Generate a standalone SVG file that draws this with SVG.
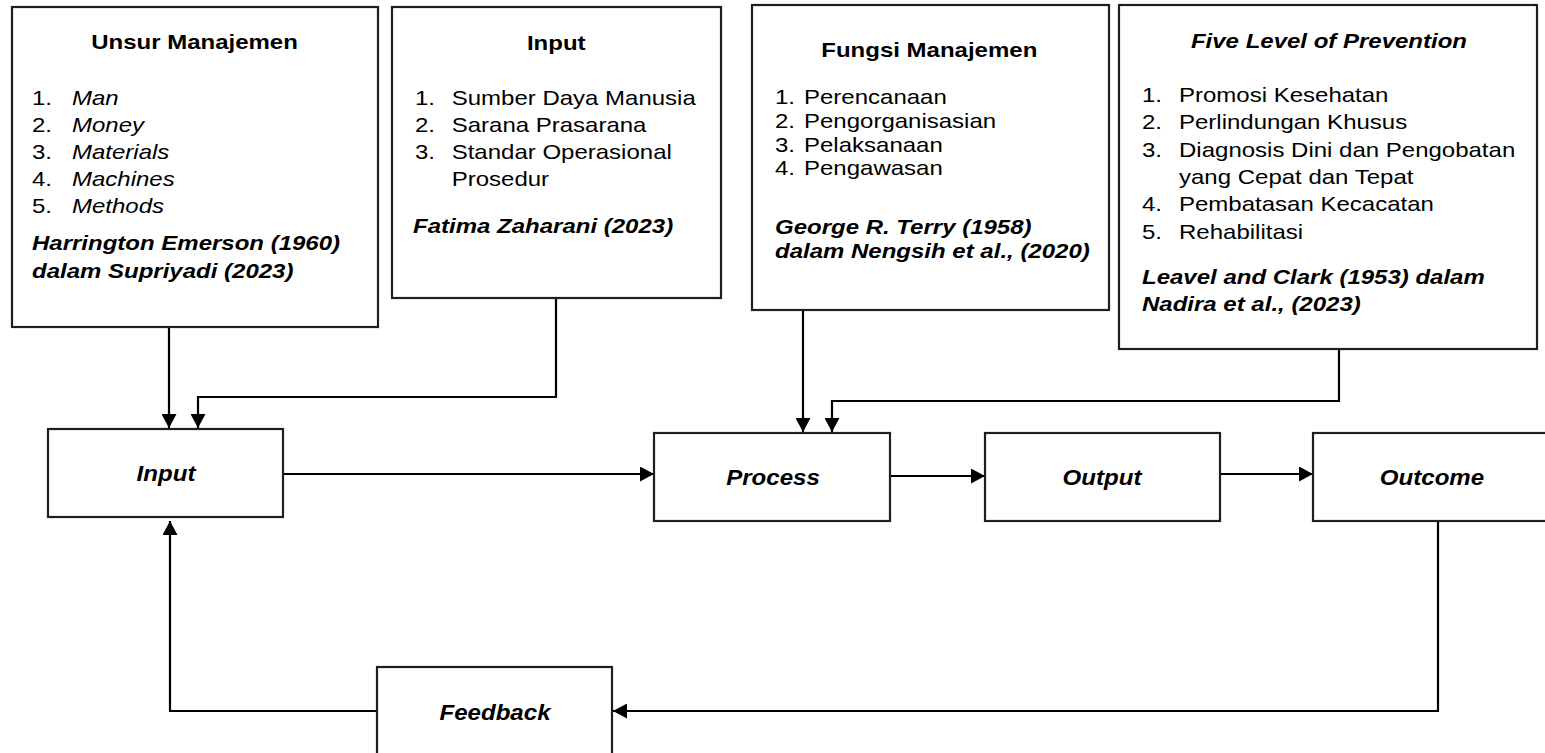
<svg xmlns="http://www.w3.org/2000/svg" width="1545" height="753" viewBox="0 0 1545 753">
<defs>
<style>
.box{fill:#fff;stroke:#1a1f26;stroke-width:2.2}
.t{font-family:"Liberation Sans",Arial,sans-serif;font-size:21px;fill:#000}
.b{font-weight:bold}
.i{font-style:italic}
.lbl{font-family:"Liberation Sans",Arial,sans-serif;font-size:22.5px;font-weight:bold;font-style:italic;fill:#000}
.c{fill:none;stroke:#000;stroke-width:2.2}
</style>
<marker id="ah" viewBox="0 0 14 15" refX="14" refY="7.5" markerWidth="14" markerHeight="15" markerUnits="userSpaceOnUse" orient="auto">
<path d="M0,0 L14,7.5 L0,15 z" fill="#000"/>
</marker>
</defs>
<rect width="1545" height="753" fill="#fff"/>

<g id="connectors">
<path class="c" d="M169,327 V428" marker-end="url(#ah)"/>
<path class="c" d="M556,298 V397 H198 V428" marker-end="url(#ah)"/>
<path class="c" d="M803,310 V432" marker-end="url(#ah)"/>
<path class="c" d="M1339,349 V401 H832 V432" marker-end="url(#ah)"/>
<path class="c" d="M283,474 H654" marker-end="url(#ah)"/>
<path class="c" d="M890,476 H985" marker-end="url(#ah)"/>
<path class="c" d="M1220,474 H1313" marker-end="url(#ah)"/>
<path class="c" d="M1438,521 V711 H613" marker-end="url(#ah)"/>
<path class="c" d="M377,711 H170 V521" marker-end="url(#ah)"/>
</g>

<g id="unsur-manajemen">
<rect class="box" x="12" y="7" width="366" height="320"/>
<g transform="translate(32,0) scale(1.143,1)">
<text class="t b" x="142.2" y="49" text-anchor="middle">Unsur Manajemen</text>
<text class="t" x="0" y="105">1.</text><text class="t i" x="35" y="105">Man</text>
<text class="t" x="0" y="132">2.</text><text class="t i" x="35" y="132">Money</text>
<text class="t" x="0" y="159">3.</text><text class="t i" x="35" y="159">Materials</text>
<text class="t" x="0" y="186">4.</text><text class="t i" x="35" y="186">Machines</text>
<text class="t" x="0" y="213">5.</text><text class="t i" x="35" y="213">Methods</text>
<text class="t b i" x="0" y="250">Harrington Emerson (1960)</text>
<text class="t b i" x="0" y="278">dalam Supriyadi (2023)</text>
</g>
</g>

<g id="input-detail">
<rect class="box" x="392" y="7" width="329" height="291"/>
<g transform="translate(415,0) scale(1.143,1)">
<text class="t b" x="123.6" y="50" text-anchor="middle">Input</text>
<text class="t" x="0" y="105">1.</text><text class="t" x="32.1" y="105">Sumber Daya Manusia</text>
<text class="t" x="0" y="132">2.</text><text class="t" x="32.1" y="132">Sarana Prasarana</text>
<text class="t" x="0" y="159">3.</text><text class="t" x="32.1" y="159">Standar Operasional</text>
<text class="t" x="32.1" y="186">Prosedur</text>
<text class="t b i" x="-1.7" y="233">Fatima Zaharani (2023)</text>
</g>
</g>

<g id="fungsi-manajemen">
<rect class="box" x="752" y="5" width="357" height="305"/>
<g transform="translate(775,0) scale(1.143,1)">
<text class="t b" x="135" y="57" text-anchor="middle">Fungsi Manajemen</text>
<text class="t" x="0" y="104">1.</text><text class="t" x="25.4" y="104">Perencanaan</text>
<text class="t" x="0" y="128">2.</text><text class="t" x="25.4" y="128">Pengorganisasian</text>
<text class="t" x="0" y="152">3.</text><text class="t" x="25.4" y="152">Pelaksanaan</text>
<text class="t" x="0" y="175.5">4.</text><text class="t" x="25.4" y="175.5">Pengawasan</text>
<text class="t b i" x="0" y="234">George R. Terry (1958)</text>
<text class="t b i" x="0" y="258">dalam Nengsih et al., (2020)</text>
</g>
</g>

<g id="five-level">
<rect class="box" x="1119" y="5" width="418" height="344"/>
<g transform="translate(1142,0) scale(1.143,1)">
<text class="t b i" x="163.6" y="48" text-anchor="middle">Five Level of Prevention</text>
<text class="t" x="0" y="102">1.</text><text class="t" x="32.4" y="102">Promosi Kesehatan</text>
<text class="t" x="0" y="129.5">2.</text><text class="t" x="32.4" y="129.5">Perlindungan Khusus</text>
<text class="t" x="0" y="157">3.</text><text class="t" x="32.4" y="157">Diagnosis Dini dan Pengobatan</text>
<text class="t" x="32.4" y="184">yang Cepat dan Tepat</text>
<text class="t" x="0" y="211.5">4.</text><text class="t" x="32.4" y="211.5">Pembatasan Kecacatan</text>
<text class="t" x="0" y="239">5.</text><text class="t" x="32.4" y="239">Rehabilitasi</text>
<text class="t b i" x="0" y="284">Leavel and Clark (1953) dalam</text>
<text class="t b i" x="0" y="311">Nadira et al., (2023)</text>
</g>
</g>

<g id="input">
<rect class="box" x="48" y="429" width="235" height="88"/>
<text class="lbl" text-anchor="middle" transform="translate(166,481) scale(1.07,1)">Input</text>
</g>

<g id="process">
<rect class="box" x="654" y="433" width="236" height="88"/>
<text class="lbl" text-anchor="middle" transform="translate(773,485) scale(1.07,1)">Process</text>
</g>

<g id="output">
<rect class="box" x="985" y="433" width="235" height="88"/>
<text class="lbl" text-anchor="middle" transform="translate(1102,485) scale(1.07,1)">Output</text>
</g>

<g id="outcome">
<rect class="box" x="1313" y="433" width="235" height="88"/>
<text class="lbl" text-anchor="middle" transform="translate(1432,485) scale(1.07,1)">Outcome</text>
</g>

<g id="feedback">
<rect class="box" x="377" y="667" width="235" height="90"/>
<text class="lbl" text-anchor="middle" transform="translate(495,720) scale(1.07,1)">Feedback</text>
</g>
</svg>
